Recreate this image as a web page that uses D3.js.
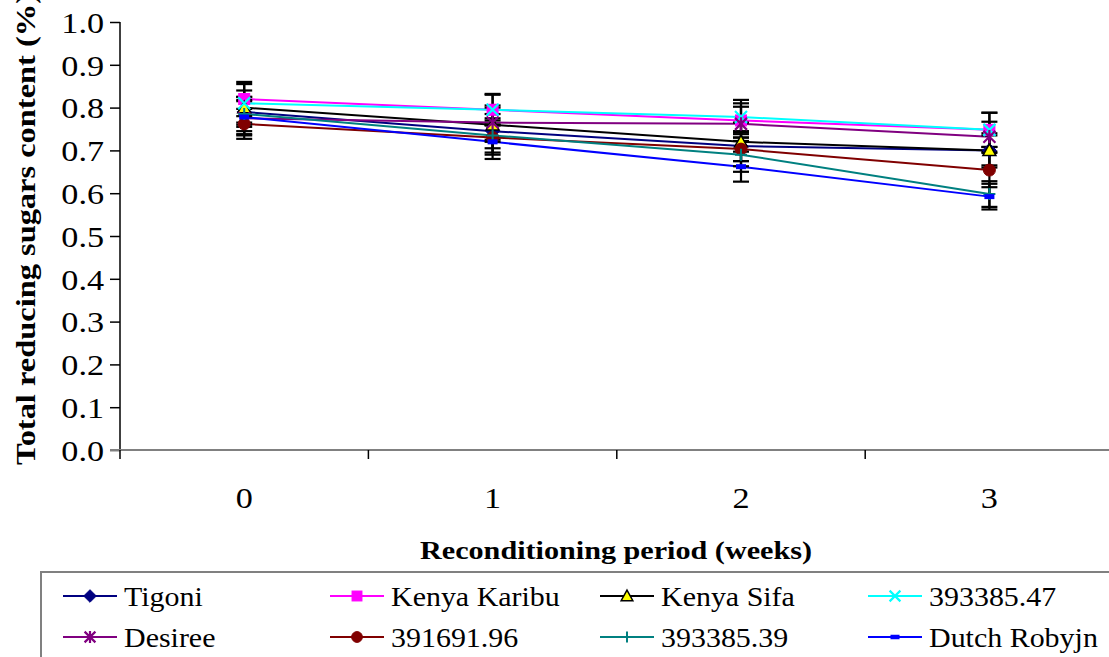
<!DOCTYPE html>
<html>
<head>
<meta charset="utf-8">
<script src="https://cdn.jsdelivr.net/npm/d3@7"></script>
<style>
  html, body { margin: 0; padding: 0; background: #fff; }
  svg { display: block; }
</style>
</head>
<body>
<svg id="chart" width="1109" height="657"></svg>
<script>
const SERIF = "Liberation Serif";

// Reconditioning weeks on the x axis
const weeks = ["0", "1", "2", "3"];
const yTicks = [0, 0.1, 0.2, 0.3, 0.4, 0.5, 0.6, 0.7, 0.8, 0.9, 1.0];

// Total reducing sugars (%) per cultivar, one value per week
const tigoni      = [0.790, 0.745, 0.710, 0.700];
const kenyaKaribu = [0.820, 0.795, 0.770, 0.748];
const kenyaSifa   = [0.800, 0.760, 0.720, 0.700];
const c39338547   = [0.810, 0.795, 0.778, 0.748];
const desiree     = [0.775, 0.765, 0.762, 0.732];
const c39169196   = [0.762, 0.730, 0.703, 0.654];
const c39338539   = [0.785, 0.735, 0.690, 0.598];
const dutchRobyjn = [0.778, 0.720, 0.662, 0.592];

// Standard deviations (error bars)
const tigoniErr      = [0.035, 0.040, 0.035, 0.035];
const kenyaKaribuErr = [0.040, 0.035, 0.040, 0.040];
const kenyaSifaErr   = [0.040, 0.040, 0.045, 0.040];
const c39338547Err   = [0.045, 0.037, 0.040, 0.040];
const desireeErr     = [0.040, 0.040, 0.040, 0.035];
const c39169196Err   = [0.035, 0.040, 0.040, 0.040];
const c39338539Err   = [0.040, 0.040, 0.040, 0.030];
const dutchRobyjnErr = [0.040, 0.040, 0.035, 0.030];

const seriesNames = ["Tigoni", "Kenya Karibu", "Kenya Sifa", "393385.47",
                     "Desiree", "391691.96", "393385.39", "Dutch Robyjn"];

const series = [
  { name: seriesNames[0], values: tigoni,      err: tigoniErr,      color: "#000080", marker: "diamond",  fill: "#000080" },
  { name: seriesNames[1], values: kenyaKaribu, err: kenyaKaribuErr, color: "#FF00FF", marker: "square",   fill: "#FF00FF" },
  { name: seriesNames[2], values: kenyaSifa,   err: kenyaSifaErr,   color: "#000000", marker: "triangle", fill: "#FFFF00" },
  { name: seriesNames[3], values: c39338547,   err: c39338547Err,   color: "#00FFFF", marker: "x",        fill: "none" },
  { name: seriesNames[4], values: desiree,     err: desireeErr,     color: "#800080", marker: "star",     fill: "none" },
  { name: seriesNames[5], values: c39169196,   err: c39169196Err,   color: "#800000", marker: "circle",   fill: "#800000" },
  { name: seriesNames[6], values: c39338539,   err: c39338539Err,   color: "#008080", marker: "plus",     fill: "none" },
  { name: seriesNames[7], values: dutchRobyjn, err: dutchRobyjnErr, color: "#0000FF", marker: "dash",     fill: "#0000FF" }
];

const svg = d3.select("#chart");
const plot = { left: 120, right: 1113.6, top: 22, bottom: 450 };

const x = d3.scaleBand().domain(weeks).range([plot.left, plot.right]);
const y = d3.scaleLinear().domain([0, 1]).range([plot.bottom, plot.top]);

// Y axis
const yAxis = svg.append("g")
  .attr("transform", `translate(${plot.left},0)`)
  .call(d3.axisLeft(y).tickValues(yTicks).tickFormat(d3.format(".1f")).tickSize(10).tickPadding(4));
yAxis.select(".domain").attr("stroke", "#000").attr("stroke-width", 1.5).attr("d", `M0,${plot.top}V${plot.bottom}`);
yAxis.selectAll(".tick line").attr("stroke", "#000").attr("stroke-width", 1.5);
yAxis.selectAll(".tick text")
  .attr("font-family", SERIF).attr("font-size", 30).attr("fill", "#000")
  .attr("dy", "0.34em").attr("transform", "scale(1.14,1)");

// X axis
const xAxis = svg.append("g").attr("transform", `translate(0,${plot.bottom})`)
  .call(d3.axisBottom(x).tickSize(0).tickPadding(37));
xAxis.select(".domain").attr("stroke", "#808080").attr("stroke-width", 2)
  .attr("d", `M110,0H1109`);
xAxis.selectAll(".tick text")
  .attr("font-family", SERIF).attr("font-size", 30).attr("fill", "#000")
  .attr("transform", "scale(1.14,1)");
// band boundary ticks
xAxis.selectAll("line.bound")
  .data(weeks.map(w => x(w)).concat([plot.right]))
  .join("line").attr("class", "bound")
  .attr("x1", d => d).attr("x2", d => d)
  .attr("y1", 0).attr("y2", 9)
  .attr("stroke", "#000").attr("stroke-width", 1.5);

// Axis titles
svg.append("text")
  .attr("transform", `translate(35,465) rotate(-90)`)
  .attr("text-anchor", "start")
  .attr("font-family", SERIF)
  .attr("font-size", 28).attr("font-weight", "bold")
  .attr("textLength", 472).attr("lengthAdjust", "spacingAndGlyphs")
  .text("Total reducing sugars content (%)");

svg.append("text")
  .attr("x", 420).attr("y", 559)
  .attr("text-anchor", "start")
  .attr("font-family", SERIF)
  .attr("font-size", 26).attr("font-weight", "bold")
  .attr("textLength", 392).attr("lengthAdjust", "spacingAndGlyphs")
  .text("Reconditioning period (weeks)");

const cx = w => x(w) + x.bandwidth() / 2;

// Marker drawing
function drawMarker(g, s, px, py, scale) {
  const k = scale || 1;
  const m = s.marker;
  if (m === "diamond") {
    const r = 7 * k;
    g.append("path").attr("d", `M${px},${py - r}L${px + r},${py}L${px},${py + r}L${px - r},${py}Z`)
      .attr("fill", s.fill).attr("stroke", s.color);
  } else if (m === "square") {
    const r = 5.5 * k;
    g.append("rect").attr("x", px - r).attr("y", py - r).attr("width", 2 * r).attr("height", 2 * r)
      .attr("fill", s.fill).attr("stroke", s.color);
  } else if (m === "triangle") {
    const r = 6.5 * k;
    g.append("path").attr("d", `M${px},${py - r}L${px + r},${py + r * 0.8}L${px - r},${py + r * 0.8}Z`)
      .attr("fill", s.fill).attr("stroke", "#000").attr("stroke-width", 1.5);
  } else if (m === "x") {
    const r = 6 * k;
    g.append("path").attr("d", `M${px - r},${py - r}L${px + r},${py + r}M${px - r},${py + r}L${px + r},${py - r}`)
      .attr("stroke", s.color).attr("stroke-width", 2.2);
  } else if (m === "star") {
    const r = 6 * k;
    g.append("path").attr("d", `M${px - r},${py - r}L${px + r},${py + r}M${px - r},${py + r}L${px + r},${py - r}M${px},${py - r * 1.1}L${px},${py + r * 1.1}`)
      .attr("stroke", s.color).attr("stroke-width", 2.2);
  } else if (m === "circle") {
    g.append("circle").attr("cx", px).attr("cy", py).attr("r", 6 * k)
      .attr("fill", s.fill).attr("stroke", s.color);
  } else if (m === "plus") {
    const r = 6 * k;
    g.append("path").attr("d", `M${px - r},${py}L${px + r},${py}M${px},${py - r}L${px},${py + r}`)
      .attr("stroke", s.color).attr("stroke-width", 2);
  } else if (m === "dash") {
    g.append("rect").attr("x", px - 5 * k).attr("y", py - 2.5 * k).attr("width", 10 * k).attr("height", 5 * k)
      .attr("fill", s.fill);
  }
}

const line = d3.line().x((d, i) => cx(weeks[i])).y(d => y(d));

// Series lines
svg.append("g").selectAll("path")
  .data(series).join("path")
  .attr("d", s => line(s.values))
  .attr("fill", "none")
  .attr("stroke", s => s.color)
  .attr("stroke-width", 2);

// Error bars
const eb = svg.append("g").attr("stroke", "#000").attr("stroke-width", 2.2);
series.forEach(s => {
  s.values.forEach((v, i) => {
    const px = cx(weeks[i]);
    const hi = y(v + s.err[i]), lo = y(v - s.err[i]);
    eb.append("line").attr("x1", px).attr("x2", px).attr("y1", hi).attr("y2", lo);
    eb.append("line").attr("x1", px - 8).attr("x2", px + 8).attr("y1", hi).attr("y2", hi);
    eb.append("line").attr("x1", px - 8).attr("x2", px + 8).attr("y1", lo).attr("y2", lo);
  });
});

// Markers
const mk = svg.append("g");
series.forEach(s => {
  s.values.forEach((v, i) => drawMarker(mk, s, cx(weeks[i]), y(v)));
});

// Legend
const legend = svg.append("g");
legend.append("rect")
  .attr("x", 41).attr("y", 572).attr("width", 1100).attr("height", 120)
  .attr("fill", "#fff").attr("stroke", "#808080").attr("stroke-width", 2);
const colX = [63, 330, 600, 868];
const rowY = [596, 637];
series.forEach((s, i) => {
  const lx = colX[i % 4], ly = rowY[Math.floor(i / 4)];
  const g = legend.append("g");
  g.append("line").attr("x1", lx).attr("x2", lx + 54).attr("y1", ly).attr("y2", ly)
    .attr("stroke", s.color).attr("stroke-width", 2);
  drawMarker(g, s, lx + 27, ly, 0.9);
  g.append("text")
    .attr("transform", `translate(${lx + 61},${ly}) scale(1.07,1)`)
    .attr("dy", "0.35em")
    .attr("font-family", SERIF)
    .attr("font-size", 28).text(s.name);
});
</script>
</body>
</html>
